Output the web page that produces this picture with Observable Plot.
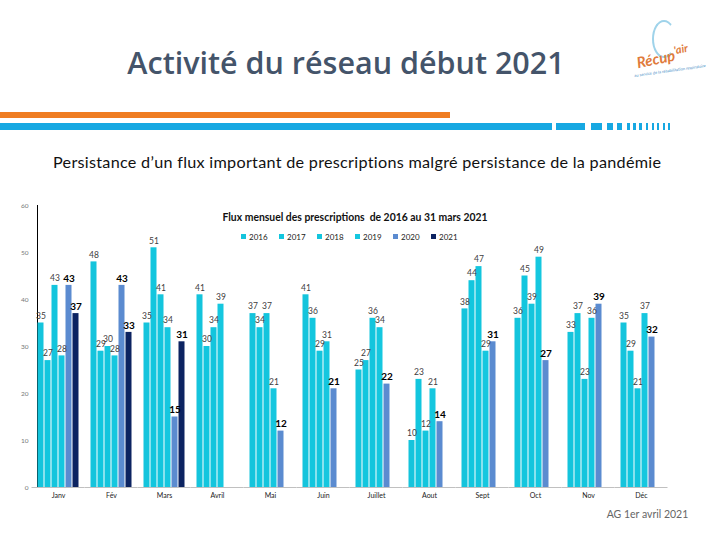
<!DOCTYPE html>
<html>
<head>
<meta charset="utf-8">
<script src="https://cdn.jsdelivr.net/npm/d3@7"></script>
<script src="https://cdn.jsdelivr.net/npm/@observablehq/plot@0.6"></script>
<style>
  html, body { margin: 0; padding: 0; background: #fff; }
  #page { position: relative; width: 720px; height: 540px; overflow: hidden; font-family: Lato, "Open Sans", sans-serif; }
  .abs { position: absolute; }
  #title { left: 0; width: 692px; top: 41px; text-align: center; font-family: "Open Sans", sans-serif; font-size: 30.5px; font-weight: 600; color: #44546a; white-space: nowrap; }
  #subtitle { left: 53px; top: 152px; font-size: 16.2px; letter-spacing: 0.28px; color: #111; white-space: nowrap; }
  #charttitle { left: 150px; width: 410px; top: 211px; text-align: center; font-size: 10.4px; font-weight: 700; color: #111; white-space: nowrap; }
  #legend { left: 241px; top: 232px; font-size: 8px; color: #222; white-space: nowrap; }
  #legend span.item { position: absolute; top: 0; }
  #legend span.sw { display: inline-block; width: 5px; height: 5px; margin-right: 3px; vertical-align: 1px; }
  #caption { left: 600px; width: 95px; top: 508px; text-align: center; font-size: 10.5px; color: #666; white-space: nowrap; }
  #chart { left: 0; top: 195px; }
  .bar-line { position: absolute; }
  #logo { left: 630px; top: 18px; width: 80px; height: 60px; }
</style>
</head>
<body>
<div id="page">
  <div id="title" class="abs">Activité du réseau début 2021</div>
  <div id="logo" class="abs">
    <div style="position:absolute;left:22px;top:2px;width:20px;height:34px;border:2px solid #9fd3ea;border-radius:50%;border-right-color:transparent;"></div>
    <div style="position:absolute;left:6px;top:28px;font-size:15px;font-weight:700;font-style:italic;color:#e07b3c;transform:rotate(-12deg);white-space:nowrap;">Récup<span style="font-size:11px;vertical-align:6px">'air</span></div>
    <div style="position:absolute;left:4px;top:50px;font-size:4px;color:#4a90c8;transform:rotate(-8deg);white-space:nowrap;">au service de la réhabilitation respiratoire</div>
  </div>
  <div id="subtitle" class="abs">Persistance d’un flux important de prescriptions malgré persistance de la pandémie</div>
  <div id="chart" class="abs"></div>
  <div id="charttitle" class="abs">Flux mensuel des prescriptions&nbsp; de 2016 au 31 mars 2021</div>
  <div id="legend" class="abs"></div>
  <div id="caption" class="abs">AG 1er avril 2021</div>
</div>
<script>
// ---- Data ----
const months = ["Janv", "Fév", "Mars", "Avril", "Mai", "Juin", "Juillet", "Aout", "Sept", "Oct", "Nov", "Déc"];
const years = ["2016", "2017", "2018", "2019", "2020", "2021"];
const v2016 = [35, 48, 35, 41, 37, 41, 25, 10, 38, 36, 33, 35];
const v2017 = [27, 29, 51, 30, 34, 36, 27, 23, 44, 45, 37, 29];
const v2018 = [43, 30, 41, 34, 37, 29, 36, 12, 47, 39, 23, 21];
const v2019 = [28, 28, 34, 39, 21, 31, 34, 21, 29, 49, 36, 37];
const v2020 = [43, 43, 15, null, 12, 21, 22, 14, 31, 27, 39, 32];
const v2021 = [37, 33, 31, null, null, null, null, null, null, null, null, null];
const yTicks = [0, 10, 20, 30, 40, 50, 60];
const boldYears = ["2020", "2021"];

const colors = ["#14c4dc", "#12c6de", "#13c5dd", "#15c7df", "#5b8bd0", "#0c2361"];
const series = [v2016, v2017, v2018, v2019, v2020, v2021];

const data = [];
months.forEach((m, i) => {
  series.forEach((s, j) => {
    if (s[i] != null) data.push({month: m, year: years[j], value: s[i]});
  });
});

// ---- Lines (decorative header) ----
const page = document.getElementById("page");
function addLine(x0, x1, y, h, color) {
  const d = document.createElement("div");
  d.className = "bar-line";
  d.style.left = x0 + "px"; d.style.width = (x1 - x0) + "px";
  d.style.top = y + "px"; d.style.height = h + "px"; d.style.background = color;
  page.appendChild(d);
}
addLine(0, 450, 112, 6, "#ef7d22");
const blueSegs = [[0, 552], [556, 585], [591, 602], [607, 613], [617, 622], [627, 630], [633, 636], [639, 642], [646, 648], [652, 654], [657, 659], [663, 665], [668, 670]];
blueSegs.forEach(([a, b]) => addLine(a, b, 123, 7, "#17a8e2"));

// ---- Legend ----
const legend = document.getElementById("legend");
years.forEach((y, i) => {
  const it = document.createElement("span");
  it.className = "item";
  it.style.left = (i * 38) + "px";
  it.innerHTML = `<span class="sw" style="background:${colors[i]}"></span>${y}`;
  legend.appendChild(it);
});

// ---- Chart ----
const chart = Plot.plot({
  width: 720,
  height: 312,
  marginLeft: 26,
  marginRight: 47,
  marginTop: 10,
  marginBottom: 20,
  style: {fontFamily: "Lato, 'Open Sans', sans-serif", background: "transparent"},
  fx: {domain: months, paddingInner: 0.2, paddingOuter: 0.1, label: null, tickSize: 0, tickPadding: 6, axis: "bottom"},
  x: {domain: years, padding: 0, axis: null},
  y: {domain: [0, 60], ticks: yTicks, tickSize: 0, tickPadding: 9, label: null, line: true},
  color: {type: "ordinal", domain: years, range: colors},
  marks: [
    Plot.barY(data, {fx: "month", x: "year", y: "value", fill: "year", insetLeft: 0.5, insetRight: 0.5}),
    Plot.ruleY([0], {stroke: "#c0c0c0", insetLeft: -5.5, insetRight: -5.5}),
    Plot.text(data.filter(d => !boldYears.includes(d.year)), {
      fx: "month", x: "year", y: "value", text: "value", dy: -7,
      fill: "#404040", fontSize: 8.5
    }),
    Plot.text(data.filter(d => boldYears.includes(d.year)), {
      fx: "month", x: "year", y: "value", text: "value", dy: -7,
      fill: "#000", fontSize: 10, fontWeight: "bold"
    })
  ]
});
document.getElementById("chart").appendChild(chart);
// style the axis text
chart.querySelectorAll("[aria-label='fx-axis tick label'] text, [aria-label='fx-axis'] text").forEach(t => { t.setAttribute("font-size", "7"); t.setAttribute("fill", "#222"); });
chart.querySelectorAll("[aria-label='y-axis tick label'] text, [aria-label='y-axis'] text").forEach(t => { t.setAttribute("font-size", "6.5"); t.setAttribute("fill", "#777"); });
chart.querySelectorAll("[aria-label='y-axis tick label'], [aria-label='fx-axis tick label']").forEach(g => g.setAttribute("font-size", "7"));
</script>
</body>
</html>
